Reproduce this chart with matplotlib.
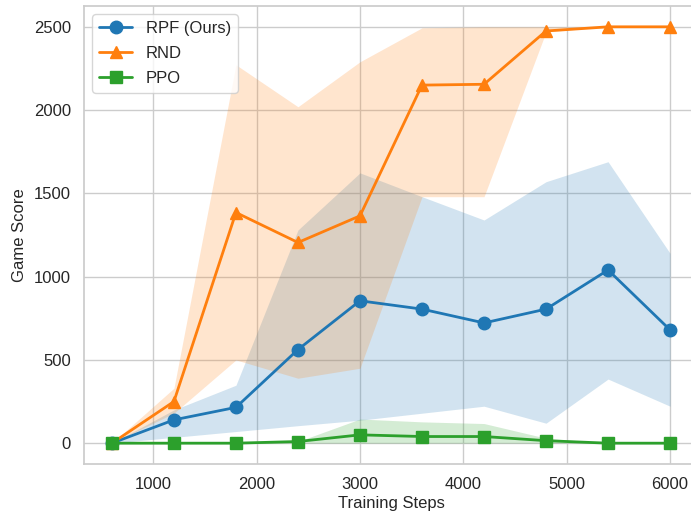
import matplotlib
matplotlib.use("Agg")
import matplotlib.pyplot as plt
import seaborn as sns
import numpy as np

sns.set_theme(style="whitegrid")
plt.rcParams['font.family'] = ['Liberation Sans', 'DejaVu Sans']

steps = [600, 1200, 1800, 2400, 3000, 3600, 4200, 4800, 5400, 6000]

rpf_mean = [0, 140, 215, 562, 855, 805, 722, 805, 1040, 680]
rpf_low = [0, 35, 70, 105, 138, 180, 222, 120, 385, 222]
rpf_high = [0, 200, 348, 1280, 1623, 1480, 1340, 1570, 1690, 1140]

rnd_mean = [0, 250, 1385, 1205, 1365, 2150, 2155, 2475, 2500, 2500]
rnd_low = [0, 180, 500, 390, 450, 1480, 1480, 2470, 2500, 2500]
rnd_high = [0, 330, 2272, 2020, 2290, 2494, 2500, 2500, 2500, 2500]

ppo_mean = [0, 0, 0, 10, 50, 40, 40, 15, 0, 0]
ppo_low = [0, 0, 0, 0, 0, 0, 0, 0, 0, 0]
ppo_high = [0, 0, 0, 10, 145, 128, 118, 30, 0, 0]

labels = ["RPF (Ours)", "RND", "PPO"]
colors = ["#1f77b4", "#ff7f0e", "#2ca02c"]
markers = ["o", "^", "s"]

fig = plt.figure(figsize=(6.91, 5.19), dpi=100)
ax = fig.add_axes([84/691, (519-464)/519, (698-84)/691, (464-6)/519])

series = [(rpf_mean, rpf_low, rpf_high), (rnd_mean, rnd_low, rnd_high), (ppo_mean, ppo_low, ppo_high)]
for (m, lo, hi), lab, c, mk in zip(series, labels, colors, markers):
    ax.fill_between(steps, lo, hi, color=c, alpha=0.2, linewidth=0)
for (m, lo, hi), lab, c, mk in zip(series, labels, colors, markers):
    ax.plot(steps, m, color=c, marker=mk, markersize=9, linewidth=2, label=lab)

ax.set_xlim(330, 6270)
ax.set_ylim(-125, 2625)
ax.set_xticks([1000, 2000, 3000, 4000, 5000, 6000])
ax.set_yticks([0, 500, 1000, 1500, 2000, 2500])
ax.tick_params(labelsize=12, pad=3.5)
ax.set_xlabel("Training Steps", fontsize=12, labelpad=3)
ax.set_ylabel("Game Score", fontsize=12, labelpad=5)
ax.legend(loc="upper left", fontsize=12, frameon=True, labelspacing=0.6)

fig.savefig("out.png", dpi=100)
